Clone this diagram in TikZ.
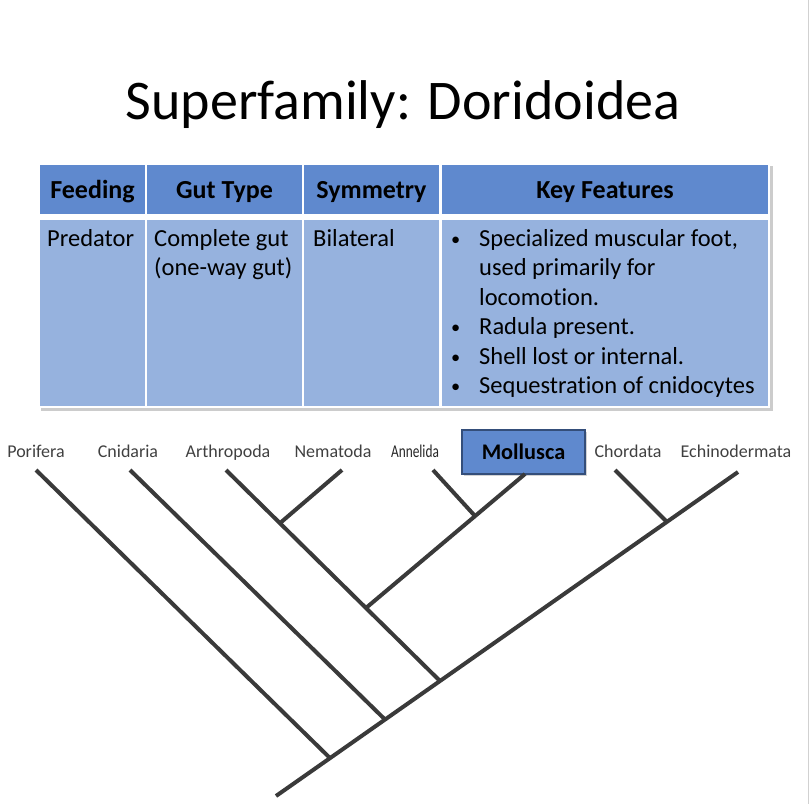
\documentclass[tikz,border=0pt]{standalone}
\usepackage{fontspec}
\setmainfont[Ligatures=NoCommon]{Carlito}
\usetikzlibrary{shadows,calc}

\definecolor{headblue}{RGB}{95,137,206}
\definecolor{bodyblue}{RGB}{150,178,222}
\definecolor{boxedge}{RGB}{52,78,122}
\definecolor{branchgray}{RGB}{58,58,58}
\definecolor{labelgray}{RGB}{64,64,64}

\newcommand{\kfbullet}{\raisebox{1pt}{\scalebox{0.75}{\textbullet}}}

\tikzset{
  headtext/.style={anchor=base, inner sep=0pt, font=\fontsize{26}{31}\selectfont\bfseries},
  bodytext/.style={anchor=base west, inner sep=0pt, font=\fontsize{24.5}{29.5}\selectfont},
  taxon/.style={anchor=base, inner sep=0pt, text=labelgray, font=\fontsize{18}{21}\selectfont},
  mollbox/.style={draw=boxedge, line width=1.2pt, fill=headblue, minimum width=123pt,
    minimum height=44pt, inner sep=0pt, font=\fontsize{22.3}{26}\selectfont\bfseries,
    drop shadow={shadow xshift=2pt, shadow yshift=-2pt, opacity=0.35}},
  branch/.style={draw=branchgray, line width=4pt},
}

\begin{document}
\begin{tikzpicture}[x=1pt, y=-1pt]
\useasboundingbox (0,0) rectangle (811,804);
\draw[black!18, line width=1pt] (808,0) -- (808,804);

\node[anchor=base, font=\fontsize{56}{67}\selectfont] (title) at (403,119) {Superfamily: Doridoidea};

% table
\fill[white, drop shadow={shadow xshift=2.5pt, shadow yshift=-2.5pt, opacity=0.4}] (38,163) rectangle (770,408);
\foreach \xa/\xb in {40/145, 147/302, 304/439, 442/768} {
  \fill[headblue] (\xa,165) rectangle (\xb,214);
  \fill[bodyblue] (\xa,220) rectangle (\xb,406);
}
\node[headtext] (hfeed) at (92.5,198) {Feeding};
\node[headtext] (hgut) at (224.5,198) {Gut Type};
\node[headtext] (hsym) at (371.5,198) {Symmetry};
\node[headtext] (hkey) at (605,198) {Key Features};

\node[bodytext] (feed) at (47,246) {Predator};
\node[bodytext] (gut) at (154,246) {\begin{tabular}[t]{@{}l@{}}Complete gut\\(one-way gut)\end{tabular}};
\node[bodytext] (sym) at (313,246) {Bilateral};
\node[bodytext] (key) at (451,246) {\begin{tabular}[t]{@{}p{28pt}@{}l@{}}
  \kfbullet & Specialized muscular foot,\\
            & used primarily for\\
            & locomotion.\\
  \kfbullet & Radula present.\\
  \kfbullet & Shell lost or internal.\\
  \kfbullet & Sequestration of cnidocytes
\end{tabular}};

% taxa
\node[taxon] (por) at (36,457) {Porifera};
\node[taxon] (cni) at (128,457) {Cnidaria};
\node[taxon] (art) at (228,457) {Arthropoda};
\node[taxon] (nem) at (333,457) {Nematoda};
\node[taxon, text=black!85] (ann) at (415,457) {\scalebox{0.74}[1]{Annelida}};
\node[mollbox] (mol) at (523.5,452) {Mollusca};
\node[taxon] (cho) at (628,457) {Chordata};
\node[taxon] (ech) at (736,457) {Echinodermata};

% tree
\coordinate (root) at (276,796);
\coordinate (tipPor) at (36,470);
\coordinate (tipCni) at (130,470);
\coordinate (tipArt) at (226,470);
\coordinate (tipNem) at (342,470);
\coordinate (tipAnn) at (433,470);
\coordinate (tipMol) at (525,474);
\coordinate (tipCho) at (615,470);
\coordinate (tipEch) at (738,472);

\coordinate (jPor) at ($(root)!0.117!(tipEch)$);
\coordinate (jCni) at ($(root)!0.236!(tipEch)$);
\coordinate (jPro) at ($(root)!0.355!(tipEch)$);
\coordinate (jDeu) at ($(root)!0.846!(tipEch)$);
\coordinate (jNem) at ($(tipArt)!0.252!(jPro)$);
\coordinate (jMol) at ($(tipArt)!0.654!(jPro)$);
\coordinate (jAnn) at ($(tipMol)!0.314!(jMol)$);

\draw[branch] (root) -- (tipEch);
\draw[branch] (tipPor) -- (jPor);
\draw[branch] (tipCni) -- (jCni);
\draw[branch] (tipArt) -- (jPro);
\draw[branch] (tipNem) -- (jNem);
\draw[branch] (tipMol) -- (jMol);
\draw[branch] (tipAnn) -- (jAnn);
\draw[branch] (tipCho) -- (jDeu);
\end{tikzpicture}
\end{document}
